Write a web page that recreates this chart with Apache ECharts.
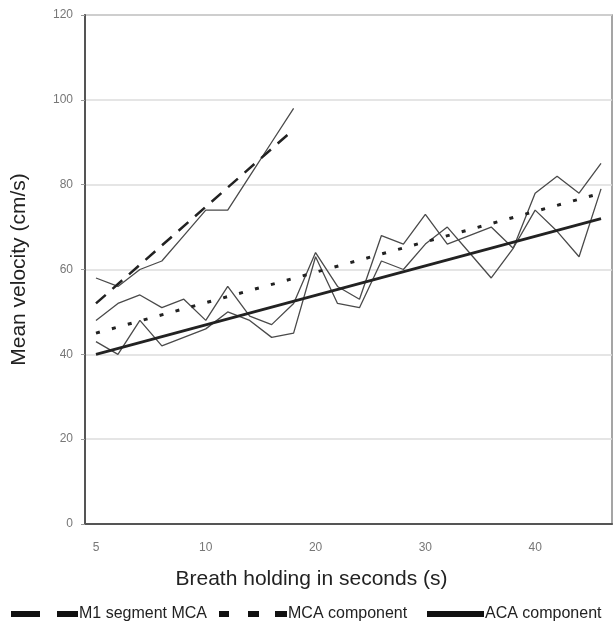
<!DOCTYPE html>
<html>
<head>
<meta charset="utf-8">
<script src="https://cdn.jsdelivr.net/npm/echarts@6/dist/echarts.min.js"></script>
<style>
  html, body { margin: 0; padding: 0; background: #fff; }
  #chart { width: 615px; height: 623px; }
</style>
</head>
<body>
<div id="chart"></div>
<script>
// x categories as printed under the axis (only every 5th point is labelled)
const breathHold = ['5', '', '', '', '', '10', '', '', '', '', '20', '', '', '', '', '30', '', '', '', '', '40', '', '', ''];

// thin raw traces
const m1Raw = [58, 56, 60, 62, 68, 74, 74, 82, 90, 98];
const mcaRaw = [48, 52, 54, 51, 53, 48, 56, 49, 47, 52, 64, 56, 53, 68, 66, 73, 66, 68, 70, 65, 78, 82, 78, 85];
const acaRaw = [43, 40, 48, 42, 44, 46, 50, 48, 44, 45, 63, 52, 51, 62, 60, 66, 70, 64, 58, 65, 74, 69, 63, 79];

// fitted lines, only the end points are known
const m1Trend = [52, null, null, null, null, null, null, null, null, 93];
const mcaTrend = [45, null, null, null, null, null, null, null, null, null, null, null,
  null, null, null, null, null, null, null, null, null, null, null, 78];
const acaTrend = [40, null, null, null, null, null, null, null, null, null, null, null,
  null, null, null, null, null, null, null, null, null, null, null, 72];

const chart = echarts.init(document.getElementById('chart'));

const font = 'Liberation Sans, Arial, sans-serif';
const thin = { color: '#4a4a4a', width: 1.3 };

function legendAt(left, name, icon, width) {
  return {
    left: left,
    top: 601,
    itemWidth: width,
    itemHeight: 6,
    itemGap: 0,
    selectedMode: false,
    data: [{ name: name, icon: icon, itemStyle: { color: '#111', borderWidth: 0 } }],
    textStyle: { fontFamily: font, fontSize: 16, color: '#222', padding: [0, 0, 0, -4] }
  };
}

chart.setOption({
  animation: false,
  backgroundColor: '#fff',
  grid: {
    left: 85, right: 3, top: 15, bottom: 99,
    show: true, borderColor: '#888', borderWidth: 1.5
  },
  legend: [
    legendAt(6, 'M1 segment MCA', 'path://M0,0h29v6h-29z M46,0h21v6h-21z', 67),
    legendAt(214, 'MCA component', 'path://M0,0h10v6h-10z M29,0h11v6h-11z M56,0h12v6h-12z', 68),
    legendAt(422, 'ACA component', 'rect', 57)
  ],
  xAxis: {
    type: 'category',
    data: breathHold,
    boundaryGap: true,
    name: 'Breath holding in seconds (s)',
    nameLocation: 'middle',
    nameGap: 45,
    nameTextStyle: { fontFamily: font, fontSize: 21, color: '#222', padding: [0, 74, 0, 0] },
    axisLine: { lineStyle: { color: '#555', width: 2 } },
    axisTick: { show: false },
    axisLabel: { interval: 0, margin: 18, color: '#777', fontSize: 12, fontFamily: font }
  },
  yAxis: {
    type: 'value',
    min: 0, max: 120, interval: 20,
    name: 'Mean velocity (cm/s)',
    nameLocation: 'middle',
    nameGap: 55,
    nameTextStyle: { fontFamily: font, fontSize: 21, color: '#222' },
    axisLine: { show: true, lineStyle: { color: '#555', width: 2 } },
    axisTick: { show: true, length: 4, lineStyle: { color: '#999' } },
    axisLabel: { margin: 12, color: '#777', fontSize: 12, fontFamily: font },
    splitLine: { lineStyle: { color: '#ddd', width: 1.5 } }
  },
  series: [
    { name: 'M1 raw', type: 'line', data: m1Raw, symbol: 'none', lineStyle: thin, z: 2 },
    { name: 'MCA raw', type: 'line', data: mcaRaw, symbol: 'none', lineStyle: thin, z: 2 },
    { name: 'ACA raw', type: 'line', data: acaRaw, symbol: 'none', lineStyle: thin, z: 2 },
    {
      name: 'M1 segment MCA', type: 'line', data: m1Trend, connectNulls: true, symbol: 'none',
      itemStyle: { color: '#222' },
      lineStyle: { color: '#222', width: 2.5, type: [13, 9] }, z: 3
    },
    {
      name: 'MCA component', type: 'line', data: mcaTrend, connectNulls: true, symbol: 'none',
      itemStyle: { color: '#222' },
      lineStyle: { color: '#222', width: 3, type: [4, 12.5] }, z: 3
    },
    {
      name: 'ACA component', type: 'line', data: acaTrend, connectNulls: true, symbol: 'none',
      itemStyle: { color: '#222' },
      lineStyle: { color: '#222', width: 2.8 }, z: 4
    }
  ]
});
</script>
</body>
</html>
